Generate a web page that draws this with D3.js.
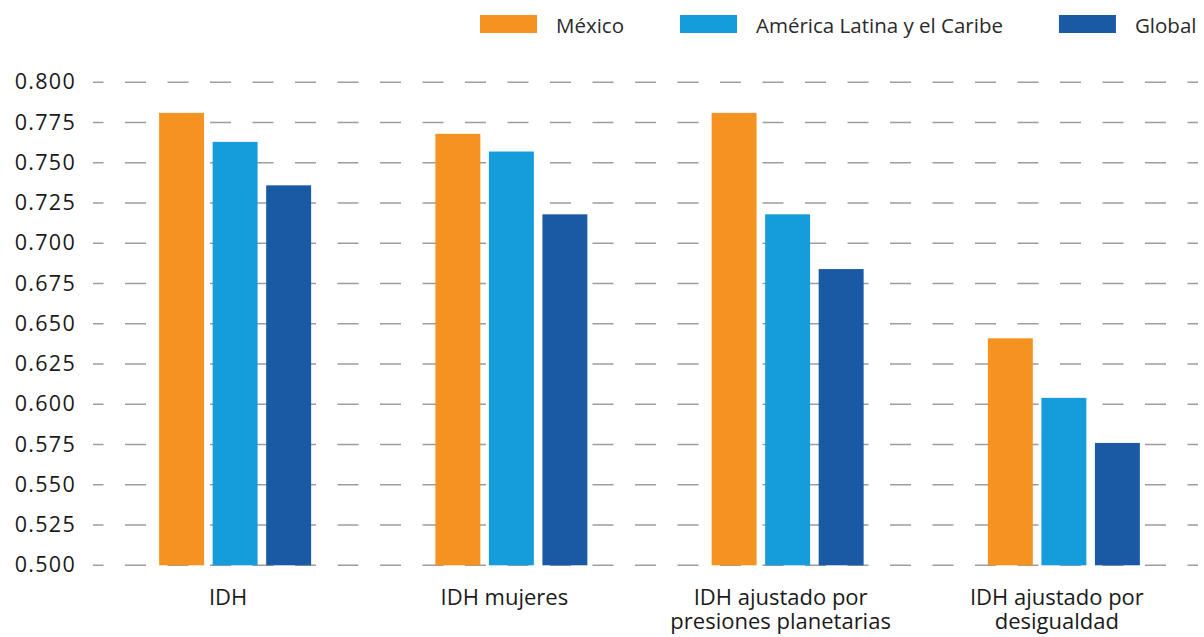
<!DOCTYPE html>
<html>
<head>
<meta charset="utf-8">
<script src="https://cdn.jsdelivr.net/npm/d3@7/dist/d3.min.js"></script>
<style>
  html, body { margin: 0; padding: 0; background: #ffffff; }
  svg { display: block; font-family: "Open Sans", sans-serif; }
</style>
</head>
<body>
<svg id="chart" width="1204" height="637"></svg>
<script>
// Índice de Desarrollo Humano: México vs. América Latina y el Caribe vs. Global
const categories = [
  ["IDH"],
  ["IDH mujeres"],
  ["IDH ajustado por", "presiones planetarias"],
  ["IDH ajustado por", "desigualdad"]
];
const seriesNames = ["México", "América Latina y el Caribe", "Global"];
const mexico = [0.781, 0.768, 0.781, 0.641];
const latam = [0.763, 0.757, 0.718, 0.604];
const globalVals = [0.736, 0.718, 0.684, 0.576];
const yTicks = [0.500, 0.525, 0.550, 0.575, 0.600, 0.625, 0.650, 0.675, 0.700, 0.725, 0.750, 0.775, 0.800];
const colors = ["#f49322", "#159cdb", "#1a5aa5"];

const seriesValues = [mexico, latam, globalVals];
const catKeys = categories.map(c => c.join(" "));

const svg = d3.select("#chart");

const x0 = d3.scaleBand().domain(catKeys).range([93, 1198]);
const x1 = d3.scaleBand().domain(seriesNames).range([-72, 80]).paddingInner(0.16);
const y = d3.scaleLinear().domain([0.5, 0.8]).range([565.3, 82.3]);

// dashed horizontal gridlines
svg.append("g")
  .selectAll("line")
  .data(yTicks)
  .join("line")
  .attr("x1", x0.range()[0])
  .attr("x2", x0.range()[1])
  .attr("y1", d => y(d))
  .attr("y2", d => y(d))
  .attr("stroke", "#9d9d9d")
  .attr("stroke-width", 1.4)
  .attr("stroke-dasharray", "21,21.5")
  .attr("stroke-dashoffset", 10.5);

// y-axis labels
const yAxis = d3.axisLeft(y).tickValues(yTicks).tickFormat(d3.format(".3f")).tickSize(0).tickPadding(0);
const yg = svg.append("g").attr("transform", "translate(76,0)").call(yAxis);
yg.select(".domain").remove();
yg.selectAll("text")
  .attr("font-family", "'Open Sans', sans-serif")
  .attr("font-size", 21.5)
  .attr("letter-spacing", 1.3)
  .attr("fill", "#1a1a1a")
  .attr("dy", "0.3em");

// grouped bars
const groups = svg.append("g")
  .selectAll("g")
  .data(catKeys)
  .join("g")
  .attr("transform", d => `translate(${x0(d) + x0.bandwidth() / 2},0)`);

groups.selectAll("rect")
  .data((d, i) => seriesNames.map((s, j) => ({ s, v: seriesValues[j][i], c: colors[j] })))
  .join("rect")
  .attr("x", d => x1(d.s))
  .attr("width", x1.bandwidth())
  .attr("y", d => y(d.v))
  .attr("height", d => y(0.5) - y(d.v))
  .attr("fill", d => d.c);

// category labels (one text per line)
const xl = svg.append("g");
categories.forEach((lines, i) => {
  const cx = x0(catKeys[i]) + x0.bandwidth() / 2 - 3;
  lines.forEach((line, k) => {
    xl.append("text")
      .attr("x", cx)
      .attr("y", 605 + k * 24)
      .attr("text-anchor", "middle")
      .attr("font-size", 22)
      .attr("fill", "#1a1a1a")
      .text(line);
  });
});

// legend
const legend = svg.append("g");
let lx = 480;
seriesNames.forEach((name, i) => {
  legend.append("rect")
    .attr("x", lx).attr("y", 15)
    .attr("width", 57).attr("height", 18)
    .attr("fill", colors[i]);
  const t = legend.append("text")
    .attr("x", lx + 76).attr("y", 33)
    .attr("font-size", 20.5)
    .attr("fill", "#2a2a2a")
    .text(name);
  lx += 76 + t.node().getComputedTextLength() + 56;
});
</script>
</body>
</html>
